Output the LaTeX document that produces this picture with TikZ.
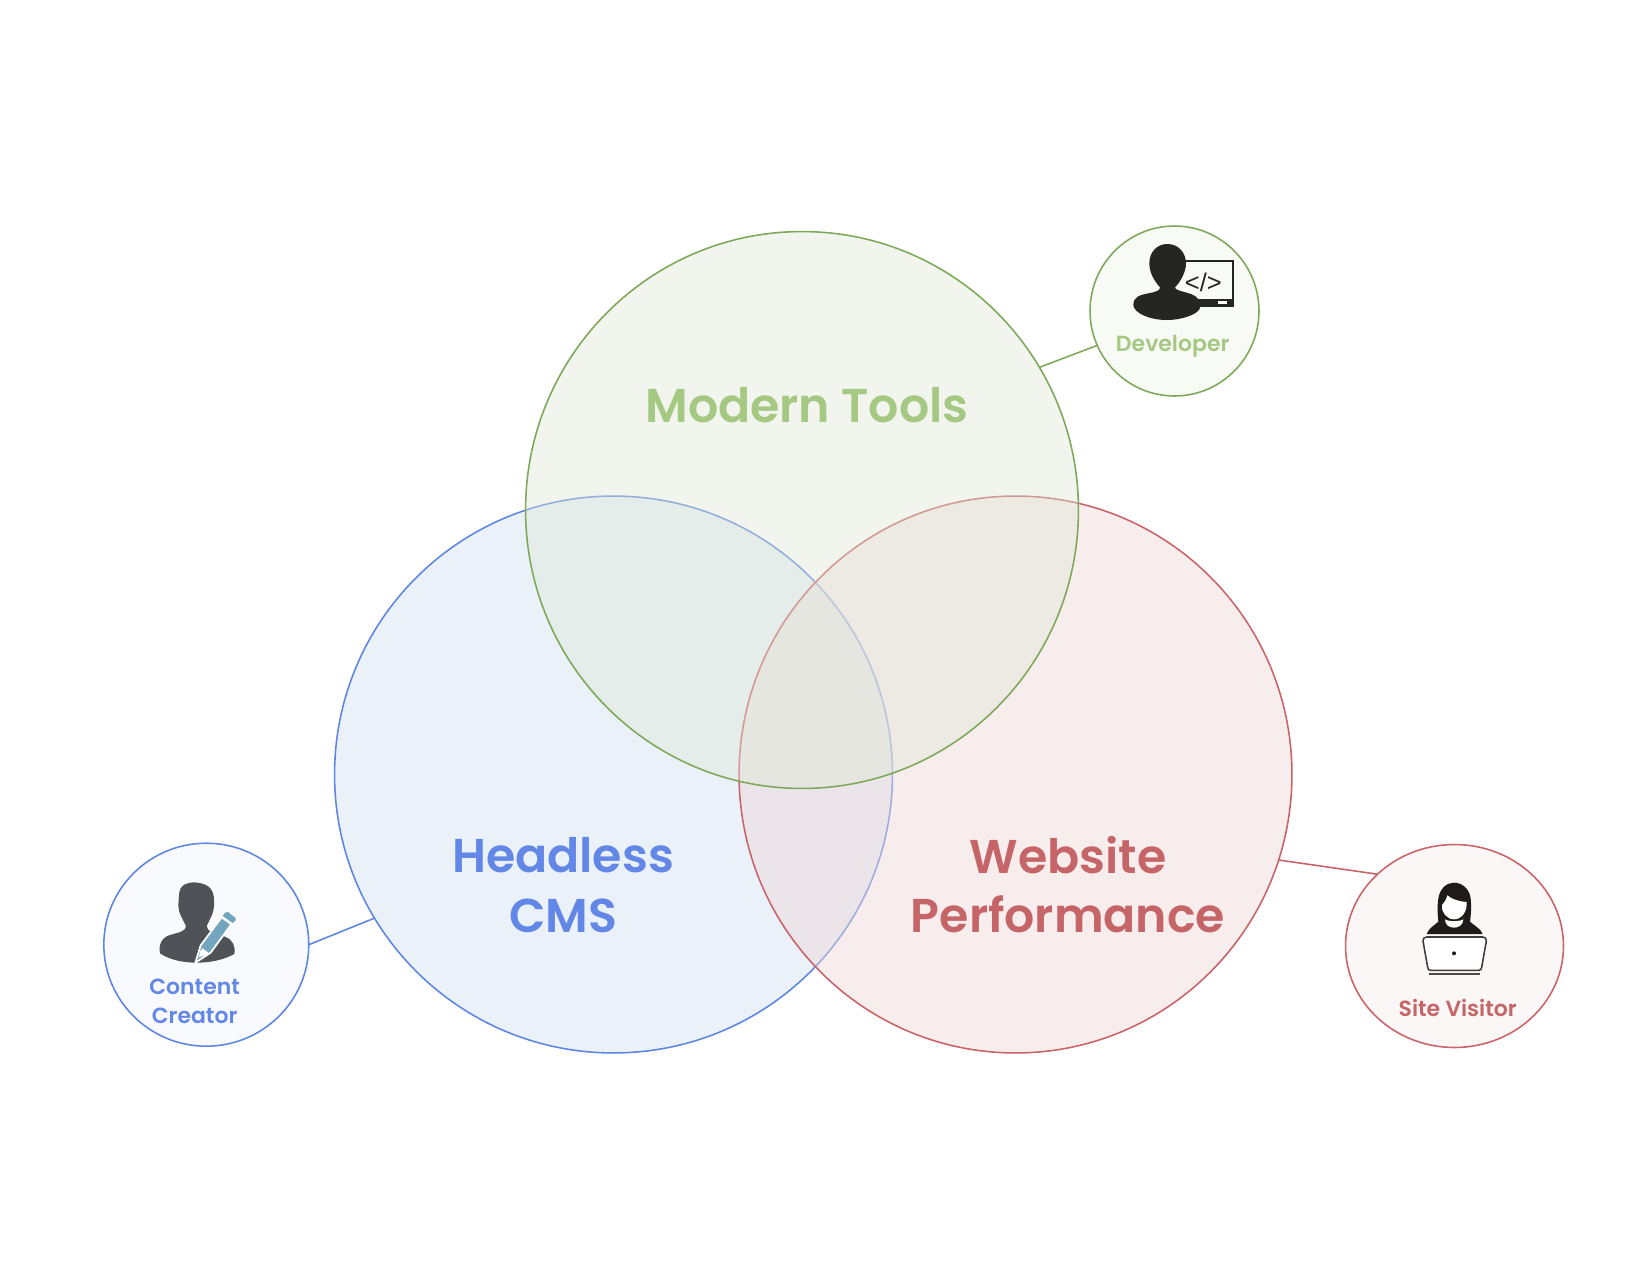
\documentclass[tikz,border=0pt]{standalone}
\usepackage{fontspec}
\setmainfont{Poppins}[BoldFont={Poppins SemiBold}]
\newfontfamily\codefont{Liberation Sans}
\usetikzlibrary{shapes.geometric}
\definecolor{greenline}{HTML}{7FA85A}
\definecolor{blueline}{HTML}{5F87E2}
\definecolor{redline}{HTML}{C8646A}
\definecolor{greentext}{HTML}{A5C882}
\definecolor{bluetext}{HTML}{6287E6}
\definecolor{redtext}{HTML}{C66567}
\definecolor{greenfill}{RGB}{224,231,214}
\definecolor{bluefill}{RGB}{213,227,243}
\definecolor{redfill}{RGB}{238,217,217}
\definecolor{greenpale}{HTML}{F8FAF6}
\definecolor{bluepale}{HTML}{F8FAFE}
\definecolor{redpale}{HTML}{FBF7F6}
\definecolor{iconblack}{HTML}{252622}
\definecolor{icongrey}{HTML}{4F5257}
\definecolor{iconpencil}{HTML}{74A5BF}
\definecolor{iconhair}{HTML}{1F1B1A}
\begin{document}
\begin{tikzpicture}[
        x=0.02cm, y=-0.02cm,
        venn/.style={ellipse, minimum height=11.14cm, inner sep=0pt, outer sep=0pt, line width=0.9pt, draw opacity=1},
        person/.style={ellipse, inner sep=0pt, outer sep=0pt, line width=0.9pt},
        title/.style={font=\bfseries\fontsize{27}{34}\selectfont, align=center, inner sep=0pt},
        caption/.style={font=\bfseries\fontsize{12.5}{16.4}\selectfont, align=center, inner sep=0pt},
        link/.style={line width=0.9pt},
    ]
    \useasboundingbox (0,0) rectangle (1650,1275);

    % Venn circles
    \node[venn, minimum width=11.16cm, draw=blueline, fill=bluefill, fill opacity=.5] (cms) at (613.5,774.5) {};
    \node[venn, minimum width=11.06cm, draw=redline, fill=redfill, fill opacity=.47] (perf) at (1015.5,774.5) {};
    \node[venn, minimum width=11.06cm, draw=greenline, fill=greenfill, fill opacity=.42] (tools) at (802,510) {};

    % Audience circles
    \node[person, draw=greenline, fill=greenpale, minimum width=3.38cm, minimum height=3.4cm] (developer) at (1174.5,311) {};
    \node[person, draw=blueline, fill=bluepale, minimum width=4.1cm, minimum height=4.06cm] (creator) at (206.3,944.7) {};
    \node[person, draw=redline, fill=redpale, minimum width=4.36cm, minimum height=4.06cm] (visitor) at (1454.5,946) {};

    % Links
    \draw[link, greenline] (tools.31.5) -- (developer.204);
    \draw[link, blueline] (cms.211) -- (creator.0);
    \draw[link, redline] (perf.-18.1) -- (visitor.137.4);

    % Developer icon
    \begin{scope}[shift={(1060,200)}, scale=1/3]
        \draw[iconblack, line width=1.1pt] (370,183) -- (519,183) -- (519,310);
        \fill[iconblack] (410,298) rectangle (523,320);
        \fill[white] (474,303) rectangle (500,311);
        \fill[iconblack] (300,262) .. controls (280,240) and (268,215) .. (268,190)
            .. controls (268,155) and (292,132) .. (322,132)
            .. controls (355,132) and (378,158) .. (378,190)
            .. controls (378,215) and (362,245) .. (345,262)
            .. controls (345,270) and (360,272) .. (380,278)
            .. controls (400,283) and (418,292) .. (420,310) -- (420,322)
            .. controls (420,340) and (370,360) .. (320,360)
            .. controls (270,360) and (222,340) .. (220,315)
            .. controls (220,290) and (240,285) .. (265,280)
            .. controls (290,275) and (300,272) .. (300,262) -- cycle;
    \end{scope}
    \node[inner sep=0pt, text=iconblack, font=\codefont\fontsize{14.5}{16}\selectfont] (code) at (1203.3,282.3) {</>};

    % Content creator icon
    \begin{scope}[shift={(90,820)}, scale=1/3]
        \fill[icongrey] (288,318) .. controls (280,300) and (265,280) .. (265,258)
            .. controls (268,215) and (262,190) .. (312,187)
            .. controls (365,190) and (375,215) .. (372,258)
            .. controls (372,280) and (358,300) .. (350,318)
            .. controls (350,335) and (375,340) .. (405,350)
            .. controls (430,360) and (437,380) .. (433,402)
            .. controls (400,420) and (360,428) .. (320,428)
            .. controls (280,428) and (240,420) .. (210,400)
            .. controls (205,375) and (215,352) .. (240,345)
            .. controls (265,337) and (288,335) .. (288,318) -- cycle;
        \draw[white, line width=1pt, fill=iconpencil, line join=round] (316,428) -- (332,376) -- (395,292) -- (424,313) -- (362,398) -- cycle;
        \fill[iconpencil] (405,278) -- (414,276) -- (437,294) -- (437,301) -- (428,309) -- (398,288) -- cycle;
        \fill[white] (330,394) -- (338,385) -- (358,401) -- (327,412) -- cycle;
    \end{scope}

    % Site visitor icon
    \begin{scope}[shift={(1330,830)}, scale=1/3]
        \fill[iconhair] (290,312) .. controls (295,295) and (315,285) .. (325,275)
            .. controls (322,245) and (322,225) .. (325,205)
            .. controls (330,175) and (350,158) .. (372,158)
            .. controls (395,158) and (418,175) .. (422,205)
            .. controls (424,225) and (424,245) .. (420,275)
            .. controls (430,285) and (452,295) .. (458,312) -- cycle;
        \fill[white] (336,225) .. controls (345,215) and (350,205) .. (352,196)
            .. controls (365,208) and (390,215) .. (410,216)
            .. controls (412,245) and (395,268) .. (372,268)
            .. controls (350,268) and (332,245) .. (336,225) -- cycle;
        \fill[white] (345,268) .. controls (355,275) and (390,275) .. (400,268)
            .. controls (400,285) and (385,293) .. (372,293)
            .. controls (358,293) and (345,285) .. (345,268) -- cycle;
        \draw[iconhair!85, line width=0.9pt, fill=white, line join=round] (290,321) -- (458,321)
            .. controls (465,321) and (470,326) .. (469,333) -- (455,412)
            .. controls (454,418) and (452,421) .. (446,421) -- (302,421)
            .. controls (296,421) and (294,418) .. (293,412) -- (279,333)
            .. controls (278,326) and (283,321) .. (290,321) -- cycle;
        \fill[iconhair!80] (297,428) rectangle (450,436);
        \fill[iconhair] (372,370) circle (6);
    \end{scope}

    % Labels
    \node[title, text=greentext, anchor=base] (toolslabel) at (807,422.7) {Modern Tools};
    \node[title, text=bluetext, anchor=center] (cmslabel) at (563,885) {Headless\\CMS};
    \node[title, text=redtext, anchor=center] (perflabel) at (1068,884.5) {Website\\Performance};
    \node[caption, text=greentext, anchor=base] (devlabel) at (1172.7,351.7) {Developer};
    \node[caption, text=bluetext, anchor=center] (creatorlabel) at (194.6,1001.5) {Content\\Creator};
    \node[caption, text=redtext, anchor=base] (visitorlabel) at (1457.7,1016.5) {Site Visitor};
\end{tikzpicture}
\end{document}
